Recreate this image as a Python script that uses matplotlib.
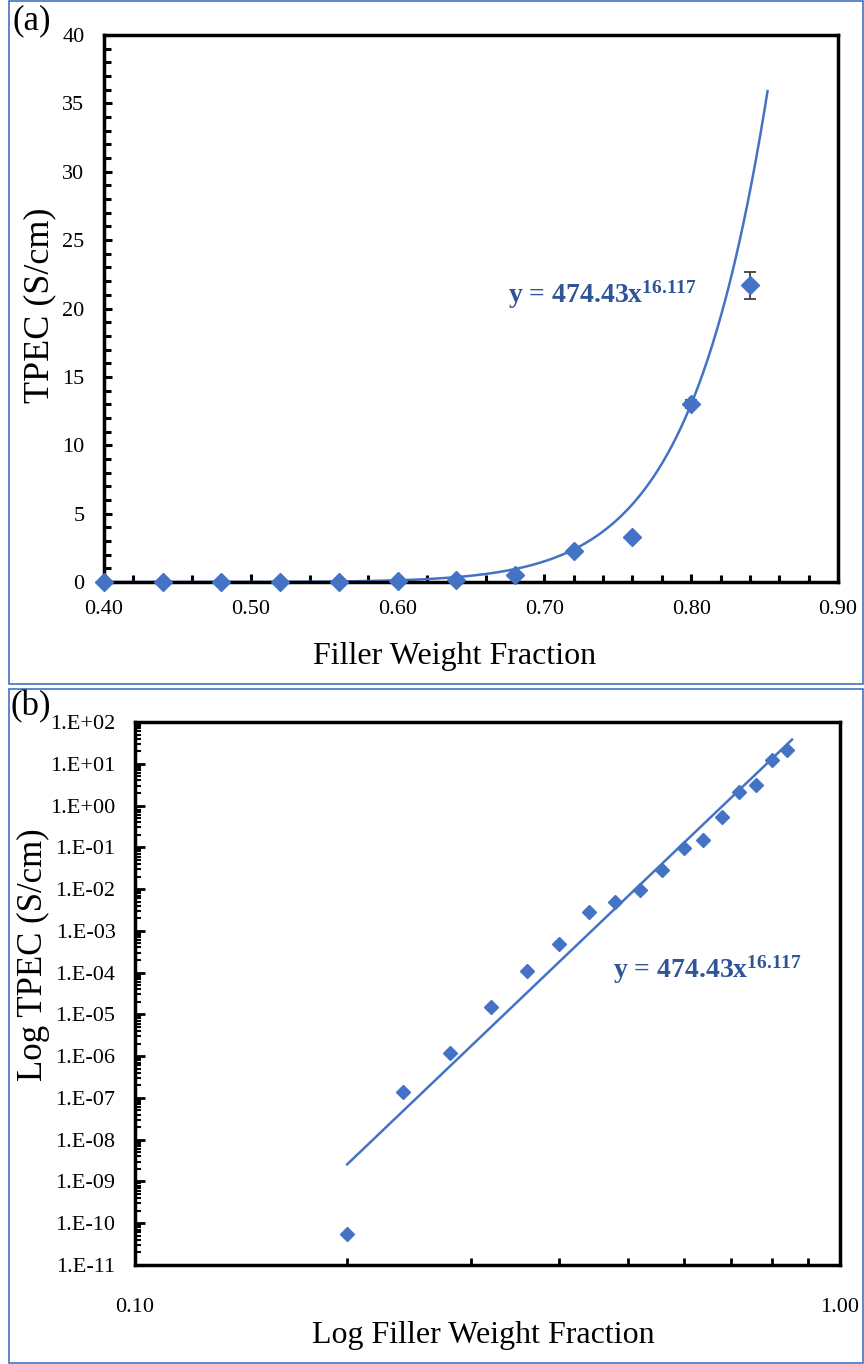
import matplotlib
matplotlib.use("Agg")
import matplotlib.pyplot as plt
from matplotlib.patches import Rectangle
from matplotlib.ticker import FixedLocator, NullFormatter, LogLocator, FuncFormatter
import numpy as np

# ---------------- data ----------------
fraction_a = [0.40, 0.44, 0.48, 0.52, 0.56, 0.60, 0.64, 0.68, 0.72, 0.76, 0.80, 0.84]
tpec_a = [4.9e-4, 2.8e-3, 4.9e-3, 9.5e-3, 0.029, 0.096, 0.15, 0.53, 2.3, 3.3, 13.0, 21.7]
err_a = [0, 0, 0, 0, 0, 0, 0, 0, 0, 0, 0.3, 1.0]

fraction_b = [0.20, 0.24, 0.28, 0.32, 0.36, 0.40, 0.44, 0.48, 0.52, 0.56,
              0.60, 0.64, 0.68, 0.72, 0.76, 0.80, 0.84]
tpec_b = [5.5e-11, 1.4e-7, 1.2e-6, 1.5e-5, 1.1e-4, 4.9e-4, 2.8e-3, 4.9e-3, 9.5e-3,
          0.029, 0.096, 0.15, 0.53, 2.1, 3.1, 12.3, 21.4]

fit_coef = 474.43
fit_exp = 16.117
fit_range_a = (0.40, 0.852)
fit_range_b = (0.20, 0.855)

xticks_a = [0.40, 0.50, 0.60, 0.70, 0.80, 0.90]
yticks_a = [0, 5, 10, 15, 20, 25, 30, 35, 40]
yticks_b_exp = list(range(-11, 3))
eq_text = "y = 474.43x$^{16.117}$"

# ---------------- style ----------------
W, H = 864, 1364
BLUE = "#4472C4"
EQ_BLUE = "#2F5597"
SERIF = "Liberation Serif"
plt.rcParams["font.family"] = SERIF
plt.rcParams["mathtext.fontset"] = "custom"
plt.rcParams["mathtext.rm"] = "Liberation Serif:bold"
plt.rcParams["mathtext.it"] = "Liberation Serif:bold"
plt.rcParams["mathtext.bf"] = "Liberation Serif:bold"

fig = plt.figure(figsize=(W / 100, H / 100), dpi=100)


def px_rect(l, t, r, b):
    return [l / W, 1 - b / H, (r - l) / W, (b - t) / H]


# panel frames
for (l, t, r, b) in [(9, 1, 863, 684), (9, 689, 863, 1363)]:
    fig.patches.append(Rectangle((l / W, 1 - b / H), (r - l) / W, (b - t) / H,
                                 transform=fig.transFigure, fill=False,
                                 edgecolor=BLUE, linewidth=1.2))

fig.text(12 / W, 1 - 21 / H, "(a)", fontsize=25, va="center", ha="left")
fig.text(10 / W, 1 - 707 / H, "(b)", fontsize=25, va="center", ha="left")

# ---------------- panel (a) ----------------
ax1 = fig.add_axes(px_rect(104, 35, 838, 582))
xf = np.linspace(*fit_range_a, 300)
ax1.plot(xf, fit_coef * xf ** fit_exp, color=BLUE, lw=1.8, zorder=2)
ax1.errorbar(fraction_a, tpec_a, yerr=err_a, fmt="D", color=BLUE, ms=9,
             ecolor="#404040", elinewidth=1.3, capsize=4, capthick=1.3, zorder=3,
             clip_on=False)
ax1.set_xlim(0.40, 0.90)
ax1.set_ylim(0, 40)
ax1.xaxis.set_major_locator(FixedLocator(xticks_a))
ax1.xaxis.set_minor_locator(FixedLocator(np.arange(0.40, 0.901, 0.02)))
ax1.yaxis.set_major_locator(FixedLocator(yticks_a))
ax1.yaxis.set_minor_locator(FixedLocator(np.arange(0, 40.1, 1)))
ax1.set_xticklabels(["%.2f" % v for v in xticks_a])
ax1.set_yticklabels([str(v) for v in yticks_a])
ax1.tick_params(which="both", direction="in", width=2.2, colors="black",
                labelsize=16, top=False, right=False)
ax1.tick_params(axis="x", which="major", length=6, pad=13)
ax1.tick_params(axis="x", which="minor", length=5)
ax1.tick_params(axis="y", which="major", length=6, pad=14)
ax1.tick_params(axis="y", which="minor", length=5)
for s in ax1.spines.values():
    s.set_linewidth(2.5)
ax1.set_xlabel("Filler Weight Fraction", fontsize=23)
ax1.xaxis.set_label_coords((455 - 104) / 734, -(656 - 582) / 547)
ax1.xaxis.label.set_va("center")
ax1.set_ylabel("TPEC (S/cm)", fontsize=26)
ax1.yaxis.set_label_coords(-(104 - 40) / 734, (582 - 305) / 547)
ax1.yaxis.label.set_va("center")
ax1.text(0.675, 21.0, eq_text, color=EQ_BLUE, fontsize=20, fontweight="bold",
         ha="left", va="center")

# ---------------- panel (b) ----------------
ax2 = fig.add_axes(px_rect(135, 722, 840, 1265))
xf = np.linspace(*fit_range_b, 300)
ax2.plot(xf, fit_coef * xf ** fit_exp, color=BLUE, lw=1.8, zorder=2)
ax2.plot(fraction_b, tpec_b, "D", color=BLUE, ms=7, zorder=3, linestyle="none")
ax2.set_xscale("log")
ax2.set_yscale("log")
ax2.set_xlim(0.1, 1.0)
ax2.set_ylim(1e-11, 1e2)
ax2.xaxis.set_major_locator(FixedLocator([0.1, 1.0]))
ax2.xaxis.set_minor_locator(FixedLocator([0.2, 0.3, 0.4, 0.5, 0.6, 0.7, 0.8, 0.9]))
ax2.xaxis.set_major_formatter(FuncFormatter(lambda v, p: "%.2f" % v))
ax2.xaxis.set_minor_formatter(NullFormatter())
ax2.yaxis.set_major_locator(FixedLocator([10.0 ** e for e in yticks_b_exp]))
ax2.yaxis.set_minor_locator(LogLocator(base=10, subs=np.arange(2, 10), numticks=30))
ax2.yaxis.set_major_formatter(FuncFormatter(
    lambda v, p: "1.E%+03d" % int(round(np.log10(v)))))
ax2.yaxis.set_minor_formatter(NullFormatter())
ax2.tick_params(which="both", direction="in", width=2.0, colors="black",
                labelsize=16, top=False, right=False)
ax2.tick_params(axis="x", which="major", length=0, pad=24)
ax2.tick_params(axis="x", which="minor", length=5)
ax2.tick_params(axis="y", which="major", length=7, pad=14)
ax2.tick_params(axis="y", which="minor", length=4, width=1.5)
for s in ax2.spines.values():
    s.set_linewidth(2.5)
ax2.set_xlabel("Log Filler Weight Fraction", fontsize=23)
ax2.xaxis.set_label_coords((483 - 135) / 705, -(1336 - 1265) / 543)
ax2.xaxis.label.set_va("center")
ax2.set_ylabel("Log TPEC (S/cm)", fontsize=25)
ax2.yaxis.set_label_coords(-(135 - 33) / 705, (1265 - 955) / 543)
ax2.yaxis.label.set_va("center")
ax2.text(0.477, 1.15e-4, eq_text, color=EQ_BLUE, fontsize=20, fontweight="bold",
         ha="left", va="center")

fig.savefig("out.png", dpi=100)
